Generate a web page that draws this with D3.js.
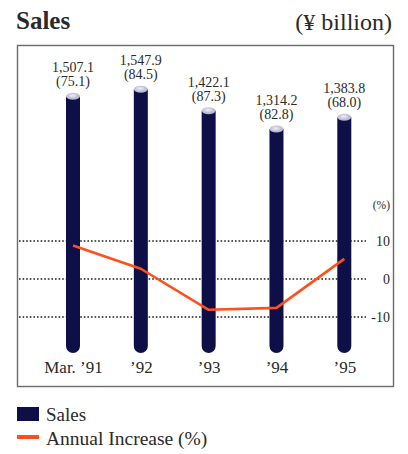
<!DOCTYPE html>
<html>
<head>
<meta charset="utf-8">
<script src="https://cdn.jsdelivr.net/npm/d3@7/dist/d3.min.js"></script>
<style>
  html, body { margin: 0; padding: 0; background: #fff; }
  svg { display: block; }
  text { font-family: "Liberation Serif", "DejaVu Serif", serif; fill: #2a2a2a; }
</style>
</head>
<body>
<svg id="chart" width="408" height="454"></svg>
<script>
// Fiscal years
const years = ["Mar. \u201991", "\u201992", "\u201993", "\u201994", "\u201995"];
// Sales, ¥ billion
const sales = [1507.1, 1547.9, 1422.1, 1314.2, 1383.8];
// Figures shown in parentheses under each sales value
const subValues = [75.1, 84.5, 87.3, 82.8, 68.0];
// Annual increase in sales, %
const increase = [8.8, 2.7, -8.1, -7.6, 5.3];
// Right-hand axis ticks, %
const pctTicks = [10, 0, -10];

const serif = "Liberation Serif, DejaVu Serif, serif";
const svg = d3.select("#chart");
const navy = "#0e0f47";
const orange = "#ff4f1c";

// Title row
svg.append("text").attr("x", 16).attr("y", 29)
  .attr("font-size", 25).attr("font-weight", "bold").attr("fill", "#1a1a1a")
  .text("Sales");
svg.append("text").attr("x", 392).attr("y", 30).attr("text-anchor", "end")
  .attr("font-size", 24).attr("fill", "#1a1a1a")
  .text("(\u00a5 billion)");

// Frame
svg.append("rect").attr("x", 17.5).attr("y", 45.5).attr("width", 376).attr("height", 341)
  .attr("fill", "none").attr("stroke", "#6a6a6a").attr("stroke-width", 1.4);

// Scales
const x = d3.scalePoint().domain(years).range([73, 344.3]);
const ySales = d3.scaleLinear().domain([0, 1600]).range([353, 80.4]);
const yPct = d3.scaleLinear().domain([-10, 10]).range([317, 241]);

// Dotted reference lines for the % axis
const grid = svg.append("g");
grid.selectAll("line").data(pctTicks).join("line")
  .attr("x1", 19).attr("x2", 366)
  .attr("y1", d => yPct(d)).attr("y2", d => yPct(d))
  .attr("stroke", "#1e1e1e").attr("stroke-width", 1.4).attr("stroke-dasharray", "1.6,2");

// Right-hand % axis
const pctAxis = d3.axisRight(yPct).tickValues(pctTicks).tickSize(0).tickPadding(0)
  .tickFormat(d => d === 0 ? "0" : (d < 0 ? "-" + Math.abs(d) : String(d)));
const ga = svg.append("g").attr("transform", "translate(390,0)").call(pctAxis);
ga.select(".domain").remove();
ga.selectAll("text").attr("text-anchor", "end").attr("font-size", 14)
  .attr("font-family", serif).attr("fill", "#333");
svg.append("text").attr("x", 390).attr("y", 209).attr("text-anchor", "end")
  .attr("font-size", 11.5).attr("fill", "#444").text("(%)");

// Cylinder-style bars
const bw = 14;
const topGrad = svg.append("defs").append("radialGradient").attr("id", "capGrad")
  .attr("cx", "45%").attr("cy", "40%").attr("r", "60%");
topGrad.append("stop").attr("offset", "0%").attr("stop-color", "#eeeef6");
topGrad.append("stop").attr("offset", "100%").attr("stop-color", "#a9a9c4");

const bars = svg.append("g");
bars.selectAll("path.bar").data(sales).join("path").attr("class", "bar")
  .attr("fill", navy)
  .attr("d", (d, i) => {
    const cx = x(years[i]), top = ySales(d), bot = ySales(0), r = bw / 2;
    return `M${cx - r},${top} L${cx + r},${top} L${cx + r},${bot - r} ` +
      `A${r},${r} 0 0 1 ${cx - r},${bot - r} Z`;
  });
bars.selectAll("ellipse").data(sales).join("ellipse")
  .attr("cx", (d, i) => x(years[i])).attr("cy", d => ySales(d))
  .attr("rx", bw / 2).attr("ry", 3.5).attr("fill", "url(#capGrad)");

// Value labels above the bars
const labels = svg.append("g");
labels.selectAll("text.v").data(sales).join("text").attr("class", "v")
  .attr("x", (d, i) => x(years[i])).attr("y", d => ySales(d) - 24)
  .attr("text-anchor", "middle").attr("font-size", 14).attr("fill", "#3a3a3a")
  .text(d => d3.format(",.1f")(d));
labels.selectAll("text.s").data(subValues).join("text").attr("class", "s")
  .attr("x", (d, i) => x(years[i])).attr("y", (d, i) => ySales(sales[i]) - 10)
  .attr("text-anchor", "middle").attr("font-size", 14).attr("fill", "#3a3a3a")
  .text(d => "(" + d.toFixed(1) + ")");

// Annual increase line
svg.append("path").datum(increase)
  .attr("fill", "none").attr("stroke", orange).attr("stroke-width", 2.6)
  .attr("stroke-linejoin", "round")
  .attr("d", d3.line().x((d, i) => x(years[i])).y(d => yPct(d)));

// Category axis
const xAxis = d3.axisBottom(x).tickSize(0).tickPadding(0);
const gx = svg.append("g").attr("transform", "translate(0,361)").call(xAxis);
gx.select(".domain").remove();
gx.selectAll("text").attr("font-size", 17).attr("font-family", serif)
  .attr("fill", "#2a2a2a").attr("dy", "0.71em");

// Legend
const lg = svg.append("g");
lg.append("rect").attr("x", 17).attr("y", 407).attr("width", 22).attr("height", 14).attr("fill", navy);
lg.append("text").attr("x", 46).attr("y", 421).attr("font-size", 19)
  .attr("font-family", serif).text("Sales");
lg.append("line").attr("x1", 17).attr("x2", 39).attr("y1", 437).attr("y2", 437)
  .attr("stroke", orange).attr("stroke-width", 4);
lg.append("text").attr("x", 46).attr("y", 445).attr("font-size", 19.5)
  .attr("font-family", serif).text("Annual Increase (%)");
</script>
</body>
</html>
